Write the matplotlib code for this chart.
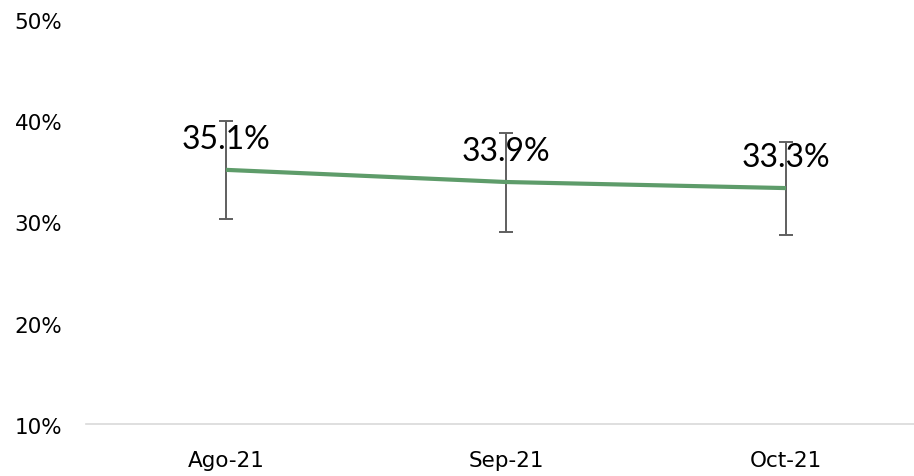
import matplotlib
matplotlib.use("Agg")
import matplotlib.pyplot as plt
from matplotlib.transforms import ScaledTranslation

categories = ["Ago-21", "Sep-21", "Oct-21"]
values = [35.1, 33.9, 33.3]
err_low = [30.2, 29.0, 28.7]
err_high = [39.9, 38.7, 37.9]
labels = ["35.1%", "33.9%", "33.3%"]
yticks = [10, 20, 30, 40, 50]

plt.rcParams['font.family'] = ['Lato', 'DejaVu Sans']

fig = plt.figure(figsize=(9.14, 4.77), dpi=100)
ax = fig.add_axes([86/914, 52/477, 1 - 86/914, 405/477])

x = list(range(len(categories)))
lower = [v - l for v, l in zip(values, err_low)]
upper = [h - v for v, h in zip(values, err_high)]

ax.errorbar(x, values, yerr=[lower, upper], fmt='none', ecolor='#5F5F5F',
            elinewidth=1.4, capsize=5, capthick=1.4, zorder=2)
ax.plot(x, values, color='#5E9C6A', linewidth=3, solid_capstyle='butt', zorder=3)

for xi, v, t in zip(x, values, labels):
    ax.annotate(t, (xi, v), xytext=(0, 16), textcoords='offset points',
                ha='center', va='baseline', fontsize=23, color='#000000', zorder=4)

ax.set_xlim(-0.5, 2.457)
ax.set_ylim(10, 50)
ax.set_xticks(x)
ax.set_xticklabels(categories, fontsize=15.5, family=['DejaVu Sans'])
ax.set_yticks(yticks)
ax.set_yticklabels([f"{t}%" for t in yticks], fontsize=15.5, family=['DejaVu Sans'])

for s in ['top', 'right', 'left']:
    ax.spines[s].set_visible(False)
ax.spines['bottom'].set_color('#D9D9D9')
ax.spines['bottom'].set_linewidth(1.2)
ax.tick_params(axis='both', length=0)
ax.tick_params(axis='x', pad=19)
ax.tick_params(axis='y', pad=17)
shift = ScaledTranslation(0, -3 / 100, fig.dpi_scale_trans)
for lbl in ax.get_yticklabels():
    lbl.set_horizontalalignment('right')
    lbl.set_verticalalignment('center')
    lbl.set_transform(lbl.get_transform() + shift)

fig.savefig("out.png", dpi=100)
